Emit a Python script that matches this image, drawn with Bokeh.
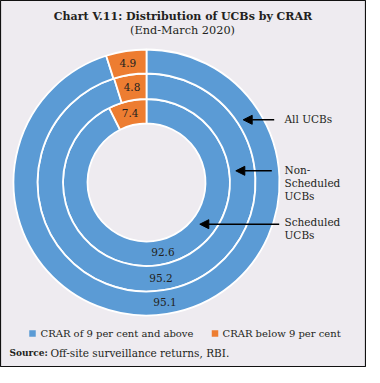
import math
from bokeh.plotting import figure
from bokeh.models import Range1d, Arrow, NormalHead
from bokeh.core.properties import value
from bokeh.embed import file_html
from bokeh.resources import INLINE

# ---- data ----
rings = ["Scheduled UCBs", "Non-Scheduled UCBs", "All UCBs"]          # inner -> outer
above_9 = [92.6, 95.2, 95.1]    # CRAR of 9 per cent and above
below_9 = [7.4, 4.8, 4.9]       # CRAR below 9 per cent
series_names = ["CRAR of 9 per cent and above", "CRAR below 9 per cent"]
title = "Chart V.11: Distribution of UCBs by CRAR"
subtitle = "(End-March 2020)"
source_label = "Source:"
source_text = "Off-site surveillance returns, RBI."

# ---- style / layout ----
W, H = 366, 367
BG = "#EEEBF0"
BLUE = "#5B9BD5"
ORANGE = "#ED7D31"
TXT = "#231F20"
FONT = value("DejaVu Serif")

def X(px):  # page x -> data x
    return px - 8
def Y(py):  # page y -> data y
    return 375 - py

cx, cy = X(154), Y(190)
radii = [(59, 83.5), (83.5, 109), (109, 133)]

p = figure(width=W, height=H, output_backend="svg", toolbar_location=None,
           x_range=Range1d(0, W), y_range=Range1d(0, H), min_border=0)
p.axis.visible = False
p.grid.visible = False
p.background_fill_color = BG
p.border_fill_color = BG
p.outline_line_color = "#111111"
p.outline_line_width = 1.2

# donut rings, starting at 12 o'clock, clockwise
for i, (a, b) in enumerate(zip(above_9, below_9)):
    r0, r1 = radii[i]
    total = a + b
    cum = 0.0
    for v, col in ((a, BLUE), (b, ORANGE)):
        s = math.pi / 2 - 2 * math.pi * cum / total
        e = math.pi / 2 - 2 * math.pi * (cum + v) / total
        p.annular_wedge(x=cx, y=cy, inner_radius=r0, outer_radius=r1,
                        start_angle=s, end_angle=e, direction="clock",
                        fill_color=col, line_color="white", line_width=1.8)
        mid = math.pi / 2 - 2 * math.pi * (cum + v / 2) / total
        rm = (r0 + r1) / 2
        p.text(x=[cx + rm * math.cos(mid)], y=[cy + rm * math.sin(mid)],
               text=[f"{v:.1f}"], text_font=FONT, text_font_size="10.5px",
               text_color=TXT, text_align="center", text_baseline="middle")
        cum += v

# arrows with ring names
arrow_specs = [
    (281.7, 250.7, 127.3, ["All UCBs"], 126.7),
    (279.3, 243.3, 178.3, ["Non-", "Scheduled", "UCBs"], 177.3),
    (286.7, 207.3, 231.7, ["Scheduled", "UCBs"], 229.3),
]
for x0, x1, yy, lines, ty in arrow_specs[::-1]:
    p.add_layout(Arrow(x_start=X(x0), y_start=Y(yy), x_end=X(x1), y_end=Y(yy),
                       line_color="black", line_width=1.5,
                       end=NormalHead(size=9, fill_color="black", line_color="black")))
    for k, t in enumerate(lines):
        p.text(x=[X(292)], y=[Y(ty + 13 * k)], text=[t], text_font=FONT,
               text_font_size="10.5px", text_color=TXT,
               text_align="left", text_baseline="middle")

# title
p.text(x=[X(190.5)], y=[Y(24)], text=[title], text_font=FONT,
       text_font_size="11px", text_font_style="bold", text_color=TXT,
       text_align="center", text_baseline="middle")
p.text(x=[X(190)], y=[Y(37.5)], text=[subtitle], text_font=FONT,
       text_font_size="11.3px", text_color=TXT,
       text_align="center", text_baseline="middle")

# legend
p.rect(x=[X(40), X(222.5)], y=[Y(341), Y(341)], width=6.5, height=6.5,
       fill_color=[BLUE, ORANGE], line_color=None)
p.text(x=[X(48), X(230)], y=[Y(341), Y(341)], text=series_names, text_font=FONT,
       text_font_size="10px", text_color=TXT, text_align="left", text_baseline="middle")

# source
p.text(x=[X(17)], y=[Y(360)], text=[source_label], text_font=FONT,
       text_font_size="9px", text_font_style="bold", text_color=TXT,
       text_align="left", text_baseline="middle")
p.text(x=[X(58)], y=[Y(360)], text=[source_text], text_font=FONT,
       text_font_size="10.5px", text_color=TXT, text_align="left", text_baseline="middle")

open("out.html", "w").write(file_html(p, INLINE))
